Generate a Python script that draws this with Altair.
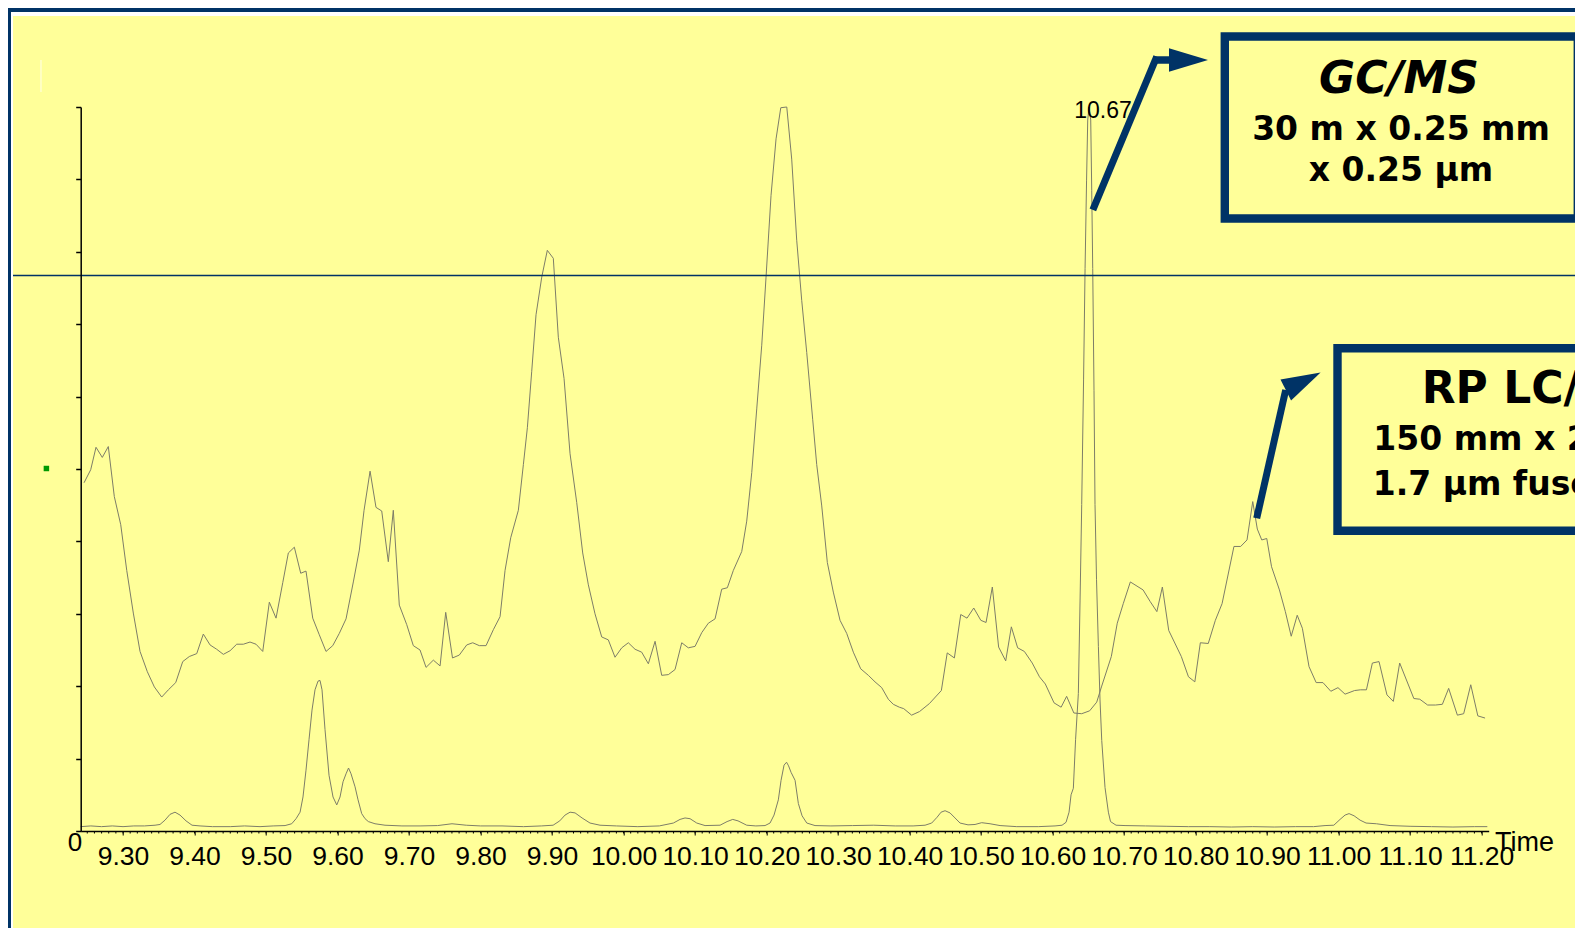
import altair as alt
import pandas as pd

# ---------------- data ----------------
# upper trace: RP LC/MS total ion current (time in min, relative intensity %)
lc_time = [
    9.2455, 9.2548, 9.2622, 9.2710, 9.2794, 9.2878, 9.2968, 9.3052, 9.3144, 9.3238,
    9.3340, 9.3438, 9.3541, 9.3634, 9.3737, 9.3835, 9.3927, 9.4031, 9.4123, 9.4217,
    9.4310, 9.4403, 9.4497, 9.4590, 9.4683, 9.4776, 9.4860, 9.4954, 9.5046, 9.5140,
    9.5234, 9.5312, 9.5396, 9.5485, 9.5559, 9.5653, 9.5745, 9.5839, 9.5933, 9.6025,
    9.6119, 9.6221, 9.6305, 9.6371, 9.6455, 9.6538, 9.6618, 9.6710, 9.6780, 9.6864,
    9.6968, 9.7060, 9.7154, 9.7238, 9.7340, 9.7434, 9.7513, 9.7608, 9.7703, 9.7807,
    9.7891, 9.7983, 9.8077, 9.8179, 9.8273, 9.8343, 9.8422, 9.8529, 9.8599, 9.8655,
    9.8716, 9.8776, 9.8856, 9.8934, 9.9018, 9.9088, 9.9168, 9.9252, 9.9345, 9.9429,
    9.9508, 9.9601, 9.9695, 9.9787, 9.9881, 9.9975, 10.0067, 10.0161, 10.0254, 10.0347,
    10.0441, 10.0534, 10.0627, 10.0720, 10.0814, 10.0906, 10.1000, 10.1094, 10.1186, 10.1280,
    10.1373, 10.1452, 10.1536, 10.1653, 10.1723, 10.1793, 10.1863, 10.1933, 10.1993, 10.2063,
    10.2133, 10.2199, 10.2283, 10.2352, 10.2422, 10.2492, 10.2562, 10.2646, 10.2702, 10.2772,
    10.2850, 10.2934, 10.3028, 10.3121, 10.3214, 10.3317, 10.3424, 10.3517, 10.3611, 10.3703,
    10.3773, 10.3857, 10.3919, 10.4029, 10.4140, 10.4278, 10.4445, 10.4527, 10.4627, 10.4716,
    10.4804, 10.4898, 10.4997, 10.5070, 10.5158, 10.5246, 10.5345, 10.5424, 10.5512, 10.5606,
    10.5716, 10.5817, 10.5899, 10.6021, 10.6120, 10.6197, 10.6298, 10.6408, 10.6519, 10.6618,
    10.6684, 10.6822, 10.6905, 10.6989, 10.7088, 10.7266, 10.7365, 10.7459, 10.7536, 10.7625,
    10.7801, 10.7901, 10.7990, 10.8067, 10.8178, 10.8277, 10.8371, 10.8537, 10.8631, 10.8720,
    10.8800, 10.8864, 10.8926, 10.8996, 10.9063, 10.9173, 10.9256, 10.9338, 10.9422, 10.9494,
    10.9587, 10.9687, 10.9782, 10.9892, 10.9992, 11.0091, 11.0224, 11.0306, 11.0390, 11.0473,
    11.0566, 11.0677, 11.0766, 11.0855, 11.1053, 11.1136, 11.1246, 11.1357, 11.1452, 11.1540,
    11.1662, 11.1750, 11.1849, 11.1948, 11.2049,
]
lc_intensity = [
    48.1, 49.9, 53.0, 51.6, 53.1, 46.2, 42.3, 36.0, 30.1, 24.8,
    22.0, 19.9, 18.5, 19.5, 20.5, 23.4, 24.1, 24.5, 27.2, 25.7,
    25.1, 24.4, 24.9, 25.8, 25.8, 26.1, 25.8, 24.8, 31.6, 29.4,
    34.3, 38.4, 39.2, 35.6, 35.9, 29.4, 27.1, 24.8, 25.6, 27.3,
    29.3, 34.4, 38.8, 44.3, 49.7, 44.7, 44.2, 37.2, 44.3, 31.2,
    28.5, 25.6, 25.0, 22.6, 23.6, 22.8, 30.2, 23.9, 24.3, 25.7,
    26.0, 25.6, 25.6, 27.8, 29.6, 36.0, 40.5, 44.3, 50.6, 55.7,
    63.5, 71.3, 76.5, 80.2, 79.1, 68.2, 62.5, 52.1, 45.4, 38.4,
    34.0, 30.0, 26.8, 26.4, 24.0, 25.3, 26.0, 25.1, 24.7, 23.1,
    26.2, 21.5, 21.6, 22.3, 26.0, 25.3, 25.5, 27.4, 28.7, 29.3,
    33.4, 33.6, 36.0, 38.6, 42.8, 49.5, 58.3, 67.1, 76.5, 87.8,
    95.6, 99.9, 100.0, 92.8, 81.6, 73.3, 66.1, 56.8, 50.6, 44.9,
    37.1, 33.0, 29.1, 27.3, 24.7, 22.4, 21.5, 20.6, 19.8, 18.2,
    17.5, 17.1, 16.9, 16.0, 16.5, 17.6, 19.4, 24.6, 23.9, 29.9,
    29.4, 30.8, 29.1, 28.8, 33.7, 25.4, 23.5, 28.2, 25.3, 24.8,
    23.2, 21.3, 20.3, 17.7, 17.1, 18.6, 16.3, 16.2, 16.6, 17.8,
    19.9, 24.1, 28.7, 31.4, 34.4, 33.3, 31.7, 30.3, 33.7, 27.7,
    24.1, 21.3, 20.6, 26.0, 25.9, 29.1, 31.4, 39.3, 39.3, 40.2,
    45.5, 41.7, 40.2, 40.4, 36.5, 33.3, 30.3, 26.9, 29.8, 28.0,
    22.7, 20.5, 20.5, 19.3, 19.8, 18.9, 19.4, 19.5, 19.5, 23.2,
    23.4, 18.8, 17.9, 23.2, 18.3, 18.2, 17.4, 17.4, 17.5, 19.7,
    16.0, 16.2, 20.2, 15.9, 15.6,
]

# lower trace: GC/MS total ion current
gc_time = [
    9.2408, 9.2550, 9.2700, 9.2850, 9.3000, 9.3150, 9.3300, 9.3448, 9.3517, 9.3587,
    9.3657, 9.3727, 9.3797, 9.3881, 9.3965, 9.4077, 9.4250, 9.4500, 9.4700, 9.4916,
    9.5100, 9.5266, 9.5359, 9.5420, 9.5476, 9.5517, 9.5559, 9.5601, 9.5643, 9.5685,
    9.5727, 9.5755, 9.5783, 9.5825, 9.5881, 9.5937, 9.5989, 9.6035, 9.6077, 9.6119,
    9.6154, 9.6189, 9.6245, 9.6287, 9.6338, 9.6385, 9.6431, 9.6524, 9.6664, 9.6900,
    9.7154, 9.7400, 9.7601, 9.7800, 9.8000, 9.8300, 9.8600, 9.8850, 9.9015, 9.9108,
    9.9182, 9.9252, 9.9322, 9.9420, 9.9531, 9.9671, 9.9900, 10.0200, 10.0500, 10.0697,
    10.0790, 10.0860, 10.0930, 10.1024, 10.1140, 10.1350, 10.1448, 10.1527, 10.1601, 10.1723,
    10.1850, 10.1979, 10.2049, 10.2105, 10.2165, 10.2203, 10.2245, 10.2280, 10.2308, 10.2343,
    10.2399, 10.2445, 10.2497, 10.2563, 10.2678, 10.2900, 10.3200, 10.3500, 10.3800, 10.4050,
    10.4217, 10.4310, 10.4385, 10.4441, 10.4497, 10.4566, 10.4636, 10.4706, 10.4818, 10.4916,
    10.5009, 10.5126, 10.5266, 10.5500, 10.5800, 10.6035, 10.6133, 10.6189, 10.6231, 10.6259,
    10.6291, 10.6322, 10.6361, 10.6385, 10.6408, 10.6434, 10.6455, 10.6476, 10.6492, 10.6510,
    10.6534, 10.6548, 10.6562, 10.6580, 10.6594, 10.6615, 10.6641, 10.6664, 10.6688, 10.6734,
    10.6781, 10.6811, 10.6888, 10.7014, 10.7300, 10.7600, 10.7900, 10.8200, 10.8500, 10.8800,
    10.9100, 10.9400, 10.9650, 10.9811, 10.9934, 11.0021, 11.0091, 11.0147, 11.0217, 11.0301,
    11.0385, 11.0529, 11.0720, 11.1000, 11.1300, 11.1600, 11.1900, 11.2081,
]
gc_intensity = [
    0.6, 0.7, 0.6, 0.7, 0.6, 0.7, 0.7, 0.8, 0.9, 1.5,
    2.3, 2.6, 2.2, 1.4, 0.8, 0.7, 0.6, 0.6, 0.7, 0.6,
    0.7, 0.75, 1.0, 1.7, 2.6, 4.7, 8.4, 12.6, 16.7, 19.5,
    20.7, 20.8, 19.5, 14.0, 7.7, 4.7, 3.6, 4.7, 6.8, 7.9,
    8.7, 7.9, 6.1, 4.3, 2.4, 1.7, 1.3, 1.0, 0.8, 0.7,
    0.7, 0.75, 1.0, 0.8, 0.7, 0.7, 0.6, 0.7, 0.8, 1.4,
    2.2, 2.6, 2.5, 1.8, 1.1, 0.8, 0.7, 0.6, 0.7, 1.1,
    1.6, 1.8, 1.7, 1.1, 0.75, 0.8, 1.3, 1.6, 1.4, 0.8,
    0.7, 0.75, 1.1, 2.2, 4.3, 7.0, 9.1, 9.5, 9.0, 8.1,
    7.0, 3.8, 2.1, 1.1, 0.75, 0.7, 0.75, 0.8, 0.7, 0.7,
    0.8, 1.1, 1.9, 2.6, 2.8, 2.5, 1.8, 1.1, 0.85, 0.9,
    1.15, 1.0, 0.75, 0.6, 0.6, 0.7, 0.8, 1.2, 2.6, 5.0,
    5.9, 12.6, 19.0, 31.9, 45.1, 62.3, 77.7, 89.9, 98.2, 100.0,
    98.2, 88.5, 77.7, 60.8, 45.1, 34.7, 25.5, 18.1, 12.5, 6.0,
    2.6, 1.3, 0.8, 0.75, 0.7, 0.65, 0.6, 0.6, 0.55, 0.6,
    0.55, 0.6, 0.6, 0.75, 0.8, 1.6, 2.2, 2.4, 2.1, 1.5,
    1.1, 1.0, 0.75, 0.65, 0.6, 0.55, 0.6, 0.6,
]

time_labels = [9.30, 9.40, 9.50, 9.60, 9.70, 9.80, 9.90, 10.00, 10.10, 10.20,
               10.30, 10.40, 10.50, 10.60, 10.70, 10.80, 10.90, 11.00, 11.10, 11.20]
minor_ticks = [round(9.25 + 0.01 * i, 2) for i in range(196)]
y_ticks = [0, 10, 20, 30, 40, 50, 60, 70, 80, 90, 100]

peak_label = "10.67"
x_title = "Time"
zero_label = "0"
gc_box = ["GC/MS", "30 m x 0.25 mm", "x 0.25 µm"]
lc_box = ["RP LC/MS", "150 mm x 2.1 mm", "1.7 µm fused-core"]

# ---------------- styles / layout ----------------
NAVY = "#003366"
YELLOW = "#FFFF99"
TRACE = "#7d7d68"
W, H = 1408, 724
PL, PT, PR, PB = 72.7, 99, 86.3, 97
LEFT, TOP, RIGHT, BOTTOM = -PL, -PT, W + PR, H + PB

lc = pd.DataFrame({"t": lc_time[:len(lc_intensity)], "v": lc_intensity[:len(lc_time)]})
gc = pd.DataFrame({"t": gc_time[:len(gc_intensity)], "v": gc_intensity[:len(gc_time)]})
minor = pd.DataFrame({"t": minor_ticks})
one = pd.DataFrame({"k": [0]})

x_axis = alt.Axis(
    values=time_labels, format=".2f",
    title=None, grid=False, zindex=1,
    domainColor="black", domainWidth=1.5,
    tickColor="black", tickWidth=1, tickSize=4,
    labelFont="Liberation Sans", labelFontSize=26.5, labelColor="black",
    labelBaseline="alphabetic", labelPadding=29,
    labelOverlap=False, labelFlush=False,
)
y_axis = alt.Axis(values=y_ticks, labels=False, title=None, grid=False, zindex=1,
                  domainColor="black", domainWidth=1.5,
                  tickColor="black", tickWidth=1.5, tickSize=5)

x_scale = alt.Scale(domain=[9.2408, 11.21], nice=False, zero=False)
y_scale = alt.Scale(domain=[0, 100], nice=False, zero=True)
x_enc = alt.X("t:Q", scale=x_scale, axis=x_axis)
y_enc = alt.Y("v:Q", scale=y_scale, axis=y_axis)


def rect(x, x2, y, y2, color):
    return alt.Chart(one).mark_rect(color=color).encode(
        x=alt.value(x), x2=alt.value(x2), y=alt.value(y), y2=alt.value(y2))


def seg(x, y, x2, y2, color, width, cap="butt", opacity=1):
    return alt.Chart(one).mark_rule(color=color, strokeWidth=width, strokeCap=cap, opacity=opacity).encode(
        x=alt.value(x), y=alt.value(y), x2=alt.value(x2), y2=alt.value(y2))


def text(s, x, y, size, align="left", font="Liberation Sans", weight="normal", style="normal"):
    return alt.Chart(one).mark_text(text=s, align=align, baseline="alphabetic", font=font,
                                    fontSize=size, fontWeight=weight, fontStyle=style,
                                    color="black").encode(x=alt.value(x), y=alt.value(y))


HEAD = "M -1 -0.6 L 1 0 L -1 0.6 Z"


def head(x, y, angle):
    return alt.Chart(one).mark_point(shape=HEAD, filled=True, color=NAVY, size=1521,
                                     angle=angle, opacity=1, strokeWidth=0).encode(
        x=alt.value(x), y=alt.value(y))


def box(x, x2, y, y2):
    return alt.Chart(one).mark_rect(fill=YELLOW, stroke=NAVY, strokeWidth=8.4).encode(
        x=alt.value(x), x2=alt.value(x2), y=alt.value(y), y2=alt.value(y2))


layers = [
    # slide frame
    rect(LEFT, RIGHT, -95, -91, "white"),
    rect(-69.7, -67.7, -95, BOTTOM, "white"),
    rect(LEFT, RIGHT, TOP, -95, NAVY),
    rect(LEFT, -69.7, TOP, BOTTOM, NAVY),
    seg(-39.7, -47, -39.7, -15, "white", 1, opacity=0.8),
    alt.Chart(one).mark_square(color="#009900", size=30, opacity=1).encode(
        x=alt.value(-34.3), y=alt.value(361.5)),
    # chromatograms
    alt.Chart(lc).mark_line(color=TRACE, strokeWidth=1).encode(x=x_enc, y=y_enc),
    alt.Chart(gc).mark_line(color=TRACE, strokeWidth=1).encode(x=x_enc, y=y_enc),
    # minor time ticks (every 0.01 min)
    alt.Chart(minor).mark_rule(color="black", strokeWidth=1).encode(
        x=x_enc, y=alt.value(H), y2=alt.value(H + 2.5)),
    # slide rule across
    seg(-67.7, 168.6, RIGHT, 168.6, NAVY, 1.5),
    text(zero_label, -5.7, 744, 26, align="center"),
    text(x_title, 1414.3, 744, 27),
    text(peak_label, 1022.3, 11, 23, align="center"),
    # arrow to GC peak
    seg(1013.5, 99.7, 1074.7, -47.2, NAVY, 7, cap="square"),
    seg(1072.3, -47, 1091.3, -47, NAVY, 7.5),
    head(1107.8, -47, 0),
    # arrow to LC region
    seg(1176, 411.3, 1205, 283, NAVY, 7),
    head(1222.5, 274.2, 333.2),
    # boxes
    box(1144.1, 1497.1, -70.5, 111.5),
    text(gc_box[0], 1318.3, -13.7, 44, align="center", font="DejaVu Sans", weight="bold", style="italic"),
    text(gc_box[1], 1320.3, 33, 33, align="center", font="DejaVu Sans", weight="bold"),
    text(gc_box[2], 1320.3, 74, 33, align="center", font="DejaVu Sans", weight="bold"),
    box(1256.8, 1650, 241.2, 423.8),
    text(lc_box[0], 1341, 296.3, 44, font="DejaVu Sans", weight="bold"),
    text(lc_box[1], 1292.6, 343, 33, font="DejaVu Sans", weight="bold"),
    text(lc_box[2], 1292, 388, 33, font="DejaVu Sans", weight="bold"),
]

chart = alt.layer(*layers).properties(
    width=W, height=H,
    padding={"left": PL, "top": PT, "right": PR, "bottom": PB},
    autosize=alt.AutoSizeParams(type="none"),
    background=YELLOW,
).configure_view(stroke=None)

chart.save("out.html", embed_options={"renderer": "svg", "actions": False})
